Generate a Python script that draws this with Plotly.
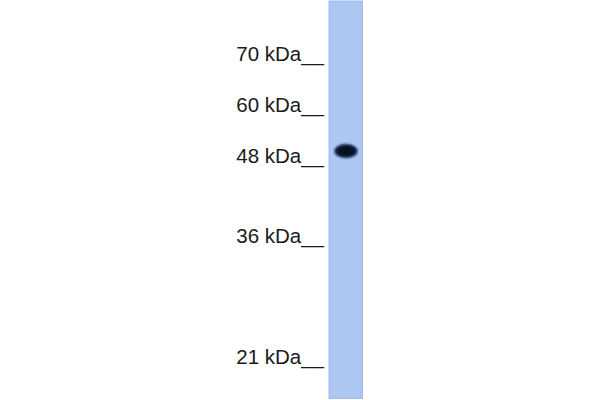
import plotly.graph_objects as go

# marker ladder (kDa) and how far each one ran down the blot
marker_kda = [70, 60, 48, 36, 21]
marker_pos = [56, 107, 157.5, 238, 359]
marker_labels = [str(k) + " kDa__" for k in marker_kda]

# one sample lane, top and bottom of the lane along the run
lane_x = [346.5]
lane_top = [2]
lane_bottom = [399]

# detected band
band_pos = [151]
band_x = [346]

fig = go.Figure()

# lane
fig.add_trace(go.Bar(
    x=lane_x,
    y=[lane_bottom[0] - lane_top[0]],
    base=lane_top,
    width=33,
    marker=dict(color="#adc7f3", line=dict(color="#a6bfea", width=1.5)),
    hoverinfo="skip",
))

# band, drawn as stacked ellipses to get a soft edge
for w, h, col in [(27, 18, "rgba(80,110,160,0.25)"),
                  (24, 15, "rgba(30,50,90,0.6)"),
                  (21, 12, "rgba(12,26,50,0.9)"),
                  (16, 8, "#07111f")]:
    fig.add_shape(type="circle", xref="x", yref="y",
                  x0=band_x[0] - w / 2, x1=band_x[0] + w / 2,
                  y0=band_pos[0] - h / 2, y1=band_pos[0] + h / 2,
                  fillcolor=col, line=dict(width=0), layer="above")

# ladder labels
fig.add_trace(go.Scatter(
    x=[324] * len(marker_pos),
    y=marker_pos,
    mode="text",
    text=marker_labels,
    textposition="middle left",
    textfont=dict(family="Liberation Sans, Arial", size=20.5, color="#1a1a1a"),
    hoverinfo="skip",
))

fig.update_layout(
    width=600, height=400,
    margin=dict(l=0, r=0, t=0, b=0),
    paper_bgcolor="white", plot_bgcolor="white",
    showlegend=False,
    bargap=0,
    xaxis=dict(range=[0, 600], visible=False, fixedrange=True),
    yaxis=dict(range=[400, 0], visible=False, fixedrange=True),
)
# page has a default body margin, drop it so the figure sits at 0,0
fig.write_html("out.html", config={"displayModeBar": False},
               post_script="document.body.style.margin='0';")
